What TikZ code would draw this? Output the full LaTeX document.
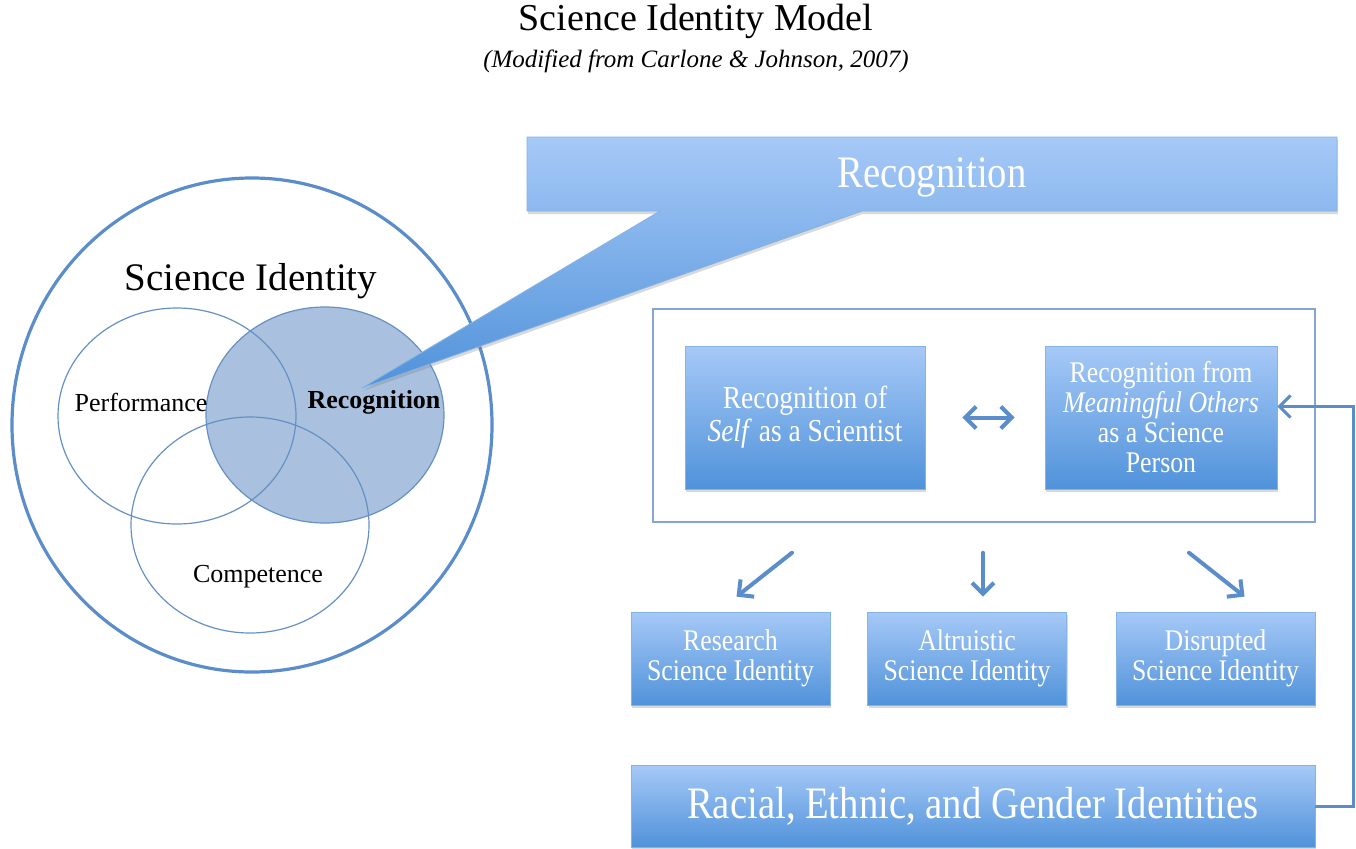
\documentclass[tikz,border=0pt]{standalone}
\usepackage{fontspec}
\setmainfont{Liberation Serif}
\newfontfamily\narrowfont[FakeStretch=0.86]{Liberation Serif}
\usetikzlibrary{arrows.meta,shadows}

\definecolor{boxtop}{HTML}{A6C9F7}
\definecolor{boxbot}{HTML}{5092DA}
\definecolor{rimblue}{HTML}{5B8DCB}
\definecolor{vennfill}{HTML}{A9C1DE}
\definecolor{vennline}{HTML}{6590C4}

\tikzset{
  >={Straight Barb[length=11pt,width=22pt]},
  bluebox/.style={draw=boxbot!70!white, line width=0.8pt, top color=boxtop,
    bottom color=boxbot, text=white, align=center,
    font=\narrowfont\fontsize{30}{30}\selectfont,
    drop shadow={shadow xshift=1pt, shadow yshift=-3pt, opacity=0.3}},
  flow/.style={draw=rimblue, line width=4pt, line cap=round, ->},
  venn/.style={draw=vennline, line width=1.2pt},
}

\begin{document}
\begin{tikzpicture}[x=1pt, y=-1pt]
    \useasboundingbox (0,0) rectangle (1356,848);

    % Heading
    \node (title) at (696,21) {\fontsize{38}{42}\selectfont Science Identity Model};
    \node (source) at (696,61) {\fontsize{25}{28}\selectfont\itshape (Modified from Carlone \& Johnson, 2007)};

    % Venn diagram inside the science identity circle
    \fill[vennfill] (325,415) ellipse [x radius=119pt, y radius=108pt];
    \draw[venn] (177,416) ellipse [x radius=119pt, y radius=108pt];
    \draw[venn] (325,415) ellipse [x radius=119pt, y radius=108pt];
    \draw[venn] (250,525) ellipse [x radius=119pt, y radius=108pt];
    \draw[rimblue, line width=3.2pt] (252,425) ellipse [x radius=240pt, y radius=247pt];

    \node (sci) at (251,281) {\fontsize{39}{44}\selectfont Science Identity};
    \node (perf) at (141,402) {\fontsize{26}{30}\selectfont Performance};
    \node (recog) at (374,402) {\fontsize{26}{30}\selectfont\bfseries Recognition};
    \node (comp) at (258,577) {\fontsize{26}{30}\selectfont Competence};

    % Callout pointing at the recognition circle
    \coordinate (tip) at (362,388);
    \path[draw=boxbot!70!white, line width=0.8pt, top color=boxtop, bottom color=boxbot,
        drop shadow={shadow xshift=1pt, shadow yshift=-3pt, opacity=0.3}]
        (527,137) -- (1337,137) -- (1337,211) -- (862,211) -- (tip)
        -- (660,211) -- (527,211) -- cycle;
    \node[text=white, font=\narrowfont\fontsize{45}{48}\selectfont] (banner) at (932,177) {Recognition};

    % Two kinds of recognition
    \node[draw=vennline!80, line width=1.5pt, minimum width=662pt, minimum height=213pt] (frame) at (984,415.5) {};
    \node[bluebox, minimum width=240pt, minimum height=143pt, font=\narrowfont\fontsize{32}{33}\selectfont] (self) at (805,417.5)
        {Recognition of\\\textit{Self} as a Scientist};
    \node[bluebox, minimum width=232pt, minimum height=143pt] (others) at (1161,417.5)
        {Recognition from\\\textit{Meaningful Others}\\as a Science\\Person};
    \draw[flow, <->, shorten <=37pt, shorten >=30pt] (self.east) -- (others.west);

    % Resulting identities
    \node[bluebox, minimum width=199pt, minimum height=93pt] (research) at (730.5,658.5)
        {Research\\Science Identity};
    \node[bluebox, minimum width=199pt, minimum height=93pt] (altru) at (967,658.5)
        {Altruistic\\Science Identity};
    \node[bluebox, minimum width=199pt, minimum height=93pt] (disrupt) at (1215.5,658.5)
        {Disrupted\\Science Identity};

    \draw[flow] ([xshift=-192pt, yshift=-30pt]frame.south) -- ([xshift=6pt, yshift=15pt]research.north);
    \draw[flow] ([xshift=-1pt, yshift=-30pt]frame.south) -- ([xshift=16pt, yshift=15pt]altru.north);
    \draw[flow] ([xshift=205pt, yshift=-30pt]frame.south) -- ([xshift=29pt, yshift=15pt]disrupt.north);

    % Racial, ethnic and gender identities feed back
    \node[bluebox, minimum width=684pt, minimum height=82pt, font=\narrowfont\fontsize{45}{48}\selectfont] (racial) at (973,806)
        {Racial, Ethnic, and Gender Identities};
    \draw[rimblue, line width=3pt, ->] (racial.east) -- ++(38,0) |- ([yshift=11pt]others.east);
\end{tikzpicture}
\end{document}
